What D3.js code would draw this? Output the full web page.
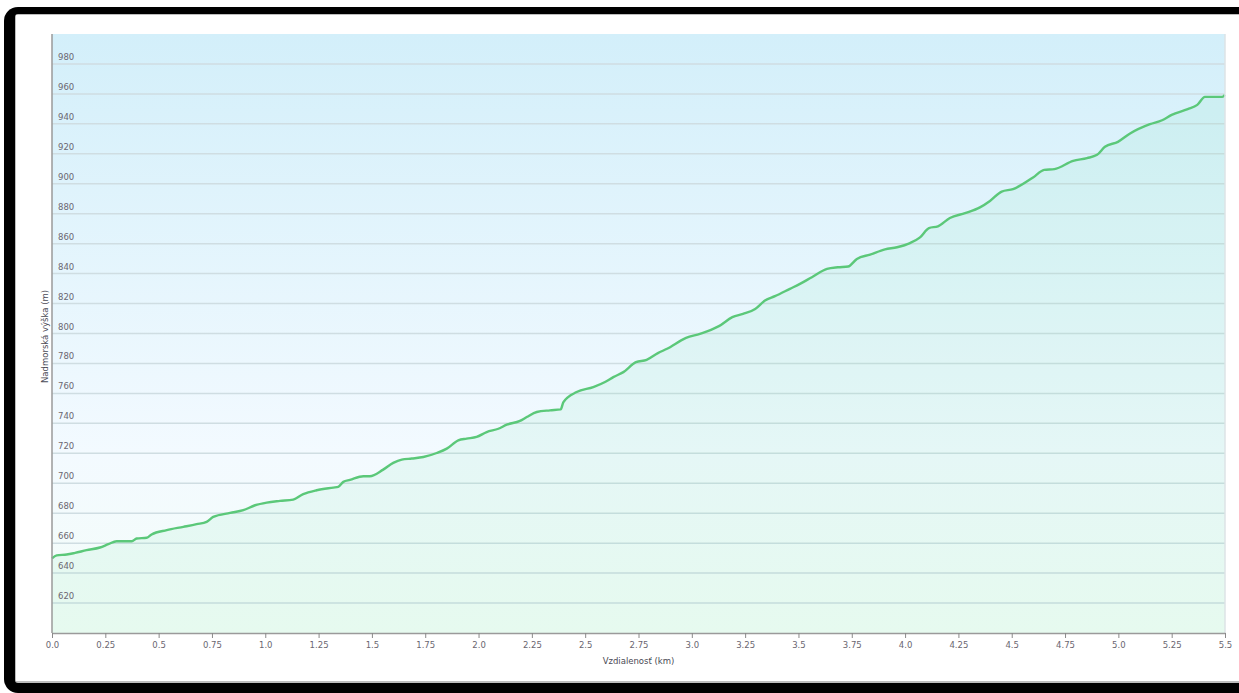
<!DOCTYPE html>
<html>
<head>
<meta charset="utf-8">
<script src="https://cdn.jsdelivr.net/npm/d3@7"></script>
<style>
  html, body { margin: 0; padding: 0; background: #fff; }
  svg { display: block; }
  text { font-family: "DejaVu Sans", Verdana, sans-serif; }
</style>
</head>
<body>
<svg id="chart" width="1239" height="693"></svg>
<script>
// distance along the route (km) and elevation (m)
const distances = [0, 0.022, 0.069, 0.108, 0.162, 0.225, 0.264, 0.303, 0.374, 0.397, 0.444, 0.467,
  0.538, 0.616, 0.678, 0.725, 0.756, 0.835, 0.897, 0.952, 1.007, 1.069, 1.131, 1.178, 1.241,
  1.319, 1.342, 1.366, 1.397, 1.46, 1.49, 1.553, 1.6, 1.64, 1.687, 1.741, 1.804, 1.851, 1.905,
  1.944, 1.991, 2.038, 2.093, 2.132, 2.194, 2.226, 2.273, 2.335, 2.385, 2.398, 2.46, 2.538,
  2.593, 2.632, 2.679, 2.738, 2.788, 2.841, 2.884, 2.973, 3.038, 3.09, 3.127, 3.19, 3.24,
  3.297, 3.343, 3.39, 3.46, 3.507, 3.563, 3.634, 3.685, 3.733, 3.774, 3.836, 3.906, 3.962,
  4.023, 4.07, 4.112, 4.154, 4.21, 4.281, 4.351, 4.398, 4.453, 4.506, 4.60, 4.652, 4.70,
  4.788, 4.853, 4.90, 4.937, 4.998, 5.055, 5.148, 5.205, 5.25, 5.325, 5.37, 5.406, 5.487, 5.5];
const elevations = [649.8, 651.8, 652.4, 653.5, 655.3, 657.1, 659.3, 661.3, 661.3, 663.1, 663.6, 665.8,
  668.7, 670.9, 672.7, 674.2, 677.5, 680.2, 682.0, 685.3, 687.1, 688.2, 689.1, 692.7, 695.3,
  697.1, 697.6, 700.9, 702.2, 704.7, 704.7, 709.1, 713.6, 715.8, 716.5, 717.5, 720.2, 723.1, 728.7,
  729.8, 730.9, 734.2, 736.4, 739.1, 741.6, 744.2, 747.6, 748.7, 749.3, 754.2, 760.9, 764.2,
  767.6, 770.9, 774.2, 780.9, 782.4, 786.9, 789.8, 797.1, 799.8, 802.4, 804.9, 810.9, 813.1,
  816.4, 822.0, 824.9, 829.8, 833.1, 837.6, 843.1, 844.2, 844.7, 849.8, 852.7, 856.2, 857.6,
  860.4, 864.2, 870.4, 871.6, 877.1, 880.4, 884.2, 888.5, 894.8, 896.4, 904.2, 909.3, 909.8,
  915.3, 917.1, 919.3, 924.7, 928.0, 933.6, 939.8, 942.4, 946.0, 949.8, 952.7, 958.0, 958.0, 959.3];

const xTicks = [0, 0.25, 0.5, 0.75, 1.0, 1.25, 1.5, 1.75, 2.0, 2.25, 2.5, 2.75, 3.0, 3.25, 3.5,
  3.75, 4.0, 4.25, 4.5, 4.75, 5.0, 5.25, 5.5];
const xTickLabels = ['0.0', '0.25', '0.5', '0.75', '1.0', '1.25', '1.5', '1.75', '2.0', '2.25', '2.5',
  '2.75', '3.0', '3.25', '3.5', '3.75', '4.0', '4.25', '4.5', '4.75', '5.0', '5.25', '5.5'];
const yTicks = [620, 640, 660, 680, 700, 720, 740, 760, 780, 800, 820, 840, 860, 880, 900, 920, 940, 960, 980];

const xTitle = 'Vzdialenosť (km)';
const yTitle = 'Nadmorská výška (m)';

const svg = d3.select('#chart');
const margin = { top: 34, right: 14, bottom: 60, left: 52 };
const W = 1239, H = 693;
const width = W - margin.left - margin.right;
const height = H - margin.top - margin.bottom;

// frame: black rounded border, cut off at the right edge
svg.append('rect')
  .attr('x', 4).attr('y', 7).attr('width', W + 20).attr('height', H - 7)
  .attr('rx', 14).attr('fill', '#000');
svg.append('rect')
  .attr('x', 15).attr('y', 14).attr('width', W).attr('height', 669)
  .attr('rx', 3).attr('fill', '#bdbdbd');
svg.append('rect')
  .attr('x', 16).attr('y', 15).attr('width', W).attr('height', 666)
  .attr('fill', '#fff');

const defs = svg.append('defs');
const bg = defs.append('linearGradient')
  .attr('id', 'bg').attr('x1', 0).attr('y1', 0).attr('x2', 0).attr('y2', 1);
bg.append('stop').attr('offset', '0%').attr('stop-color', '#d3effa');
bg.append('stop').attr('offset', '70%').attr('stop-color', '#f3faff');
bg.append('stop').attr('offset', '100%').attr('stop-color', '#f4fdf8');

const g = svg.append('g').attr('transform', `translate(${margin.left},${margin.top})`);

const x = d3.scaleLinear().domain([0, 5.5]).range([0, width]);
const y = d3.scaleLinear().domain([600, 1000]).range([height, 0]);

g.append('rect').attr('width', width).attr('height', height).attr('fill', 'url(#bg)');

// grid lines
g.selectAll('.grid')
  .data(yTicks)
  .enter().append('line')
  .attr('class', 'grid')
  .attr('x1', 0).attr('x2', width)
  .attr('y1', d => y(d)).attr('y2', d => y(d))
  .attr('stroke', '#cfdde2')
  .attr('stroke-width', 1.5);

// area + line
const area = d3.area()
  .x((d, i) => x(distances[i]))
  .y0(height)
  .y1(d => y(d))
  .curve(d3.curveMonotoneX);
const line = d3.line()
  .x((d, i) => x(distances[i]))
  .y(d => y(d))
  .curve(d3.curveMonotoneX);

g.append('path')
  .datum(elevations)
  .attr('d', area)
  .attr('fill', 'rgba(110, 230, 170, 0.10)');

g.append('path')
  .datum(elevations)
  .attr('d', line)
  .attr('fill', 'none')
  .attr('stroke', '#5bc879')
  .attr('stroke-width', 2.4)
  .attr('stroke-linejoin', 'round');

// right edge
g.append('line')
  .attr('x1', width).attr('x2', width).attr('y1', 0).attr('y2', height)
  .attr('stroke', '#dde3e6').attr('stroke-width', 1.5);

// y tick labels sit inside the plot above the grid lines
g.selectAll('.ylab')
  .data(yTicks)
  .enter().append('text')
  .attr('class', 'ylab')
  .attr('x', 6)
  .attr('y', d => y(d) - 4)
  .attr('font-size', 8.5)
  .attr('fill', '#6a6670')
  .text(d => d);

// x axis
const xAxis = d3.axisBottom(x)
  .tickValues(xTicks)
  .tickFormat((d, i) => xTickLabels[i])
  .tickSize(5)
  .tickSizeOuter(0);
const xa = g.append('g')
  .attr('transform', `translate(0,${height})`)
  .call(xAxis);
xa.select('.domain').attr('stroke', '#9a9a9a').attr('stroke-width', 1.5);
xa.selectAll('.tick line').attr('stroke', '#8a8a8a');
xa.selectAll('.tick text')
  .attr('y', 9)
  .attr('font-family', '"DejaVu Sans", Verdana, sans-serif')
  .attr('font-size', 8.5)
  .attr('fill', '#6a6670');

// y axis line
g.append('line')
  .attr('x1', 0).attr('x2', 0).attr('y1', 0).attr('y2', height)
  .attr('stroke', '#9a9a9a').attr('stroke-width', 1.5);

// titles
g.append('text')
  .attr('x', x(2.75))
  .attr('y', height + 31)
  .attr('text-anchor', 'middle')
  .attr('font-size', 8.5)
  .attr('fill', '#4a4a55')
  .text(xTitle);

g.append('text')
  .attr('transform', `translate(-4,${y(800) + 3}) rotate(-90)`)
  .attr('text-anchor', 'middle')
  .attr('font-size', 8.5)
  .attr('fill', '#4a4a55')
  .text(yTitle);
</script>
</body>
</html>
